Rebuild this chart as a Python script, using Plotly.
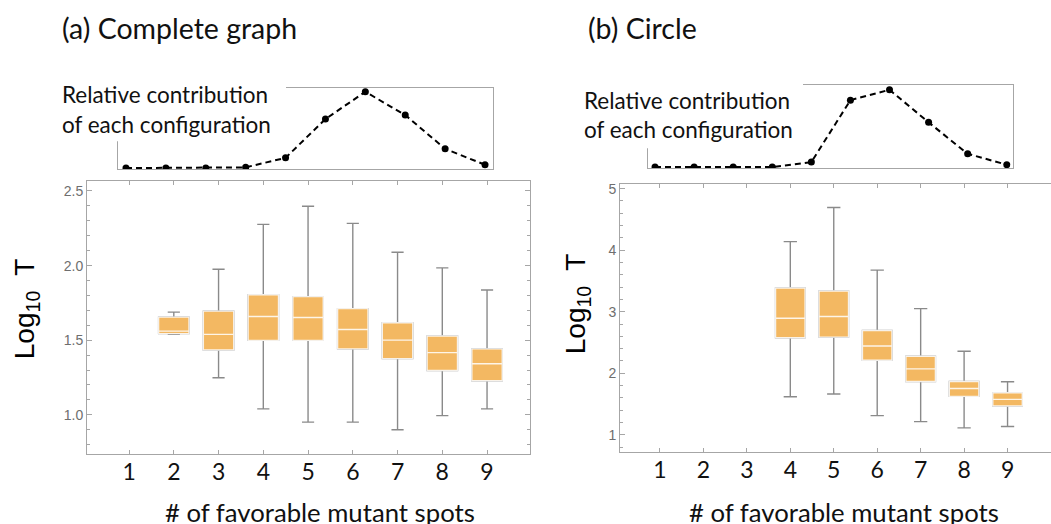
import plotly.graph_objects as go

W, H = 1051, 524

# (a) complete graph: box statistics of log10 T per number of favorable spots
spots_a = [2, 3, 4, 5, 6, 7, 8, 9]
lo_a = [1.539, 1.249, 1.040, 0.951, 0.951, 0.900, 0.995, 1.040]
q1_a = [1.544, 1.435, 1.499, 1.499, 1.442, 1.377, 1.297, 1.229]
med_a = [1.561, 1.539, 1.659, 1.652, 1.572, 1.501, 1.417, 1.342]
q3_a = [1.655, 1.695, 1.805, 1.792, 1.712, 1.617, 1.528, 1.442]
hi_a = [1.688, 1.976, 2.276, 2.398, 2.283, 2.089, 1.985, 1.837]

# (b) circle
spots_b = [4, 5, 6, 7, 8, 9]
lo_b = [1.619, 1.662, 1.312, 1.215, 1.113, 1.134]
q1_b = [2.577, 2.588, 2.211, 1.867, 1.624, 1.468]
med_b = [2.895, 2.922, 2.443, 2.071, 1.753, 1.576]
q3_b = [3.385, 3.336, 2.696, 2.276, 1.867, 1.683]
hi_b = [4.139, 4.693, 3.676, 3.051, 2.357, 1.861]

# relative contribution of each configuration (inset curves)
config_k = list(range(10))
contrib_a = [0.0, 0.0, 0.0, 0.009, 0.134, 0.643, 1.0, 0.695, 0.252, 0.043]
contrib_b = [0.0, 0.0, 0.0, 0.0, 0.064, 0.866, 1.0, 0.579, 0.171, 0.030]

x_ticks = [1, 2, 3, 4, 5, 6, 7, 8, 9]
y_ticks_a = [1.0, 1.5, 2.0, 2.5]
y_ticks_b = [1, 2, 3, 4, 5]

ORANGE = "#F3B862"
WHISK = "#8a8a8a"
FRAME = "#a6a6a6"
LABEL_FONT = "Lato"


def px_x(p):
    return p / W


def px_y(p):
    return 1 - p / H


fig = go.Figure()


def add_boxes(spots, lo, q1, med, q3, hi, xa, ya, cap):
    # whiskers (gray)
    fig.add_trace(go.Box(
        x=spots, q1=q1, median=med, q3=q3, lowerfence=lo, upperfence=hi,
        width=0.68, whiskerwidth=cap, fillcolor=ORANGE,
        line=dict(color=WHISK, width=1.4), boxpoints=False,
        xaxis=xa, yaxis=ya, showlegend=False, hoverinfo="skip"))
    # box body with white outline and white median
    fig.add_trace(go.Box(
        x=spots, q1=q1, median=med, q3=q3, lowerfence=q1, upperfence=q3,
        width=0.68, whiskerwidth=0, fillcolor=ORANGE,
        line=dict(color="rgba(255,255,255,0.85)", width=1.4), boxpoints=False,
        xaxis=xa, yaxis=ya, showlegend=False, hoverinfo="skip"))


add_boxes(spots_a, lo_a, q1_a, med_a, q3_a, hi_a, "x", "y", 0.4)
add_boxes(spots_b, lo_b, q1_b, med_b, q3_b, hi_b, "x2", "y2", 0.45)

for k, c, xa, ya in [(config_k, contrib_a, "x3", "y3"), (config_k, contrib_b, "x4", "y4")]:
    fig.add_trace(go.Scatter(
        x=k, y=c, mode="lines+markers", xaxis=xa, yaxis=ya,
        line=dict(color="black", width=2, dash="6px,4px"),
        marker=dict(color="black", size=7), showlegend=False, hoverinfo="skip"))

frame_common = dict(showline=True, linecolor=FRAME, linewidth=1, mirror="ticks",
                    ticks="inside", tickcolor=FRAME, showgrid=False, zeroline=False)

xtick_common = dict(tickvals=x_ticks, ticklen=4,
                    tickfont=dict(family=LABEL_FONT, size=23, color="#111"),
                    ticklabelstandoff=-3)

inset_common = dict(showline=True, linecolor=FRAME, mirror=True, showticklabels=False,
                    showgrid=False, zeroline=False, ticks="")

layout = dict(
    width=W, height=H, margin=dict(l=0, r=0, t=0, b=0),
    paper_bgcolor="white", plot_bgcolor="white", boxmode="overlay",
    xaxis=dict(domain=[px_x(87), px_x(530)], range=[0.06, 9.96], anchor="y",
               **frame_common, **xtick_common),
    yaxis=dict(domain=[px_y(454), px_y(179)], range=[0.735, 2.567], anchor="x",
               tickvals=y_ticks_a, tickformat=".1f", ticklen=5,
               tickfont=dict(family="Liberation Sans", size=14, color="#6e6e6e"),
               minor=dict(dtick=0.1, ticklen=3, tickcolor=FRAME, ticks="inside"),
               **frame_common),
    xaxis2=dict(domain=[px_x(620), 1.0], range=[0.08, 10.0], anchor="y2",
                **frame_common, **xtick_common),
    yaxis2=dict(domain=[px_y(452), px_y(182)], range=[0.714, 5.076], anchor="x2",
                tickvals=y_ticks_b, ticklen=5,
                tickfont=dict(family="Liberation Sans", size=14, color="#6e6e6e"),
                minor=dict(dtick=0.2, ticklen=3, tickcolor=FRAME, ticks="inside"),
                **{**frame_common, "mirror": False}),
    xaxis3=dict(domain=[px_x(118), px_x(493)], range=[-0.2, 9.2], anchor="y3", **inset_common),
    yaxis3=dict(domain=[px_y(167), px_y(85)], range=[-0.013, 1.056], anchor="x3", **inset_common),
    xaxis4=dict(domain=[px_x(648), px_x(1013)], range=[-0.18, 9.16], anchor="y4", **inset_common),
    yaxis4=dict(domain=[px_y(166), px_y(82.7)], range=[-0.013, 1.059], anchor="x4", **inset_common),
)
fig.update_layout(**layout)

# white panels behind the inset captions hide the upper-left part of the inset frames
for x0, x1, y1 in [(50, 286, 139), (572, 803, 146)]:
    fig.add_shape(type="rect", xref="paper", yref="paper", layer="above",
                  x0=px_x(x0), x1=px_x(x1), y0=px_y(y1), y1=px_y(70),
                  fillcolor="white", line=dict(width=0))


def note(text, x, y, size, xanchor="left", family=LABEL_FONT, angle=0, color="#111"):
    fig.add_annotation(text=text, xref="paper", yref="paper", x=px_x(x), y=px_y(y),
                       xanchor=xanchor, yanchor="middle", showarrow=False,
                       textangle=angle, font=dict(family=family, size=size, color=color))


note("(a) Complete graph", 60, 25, 28.5)
note("(b) Circle", 586, 25, 28.5)
note("Relative contribution", 60, 92, 22.5)
note("of each configuration", 60, 122, 22.5)
note("Relative contribution", 582, 98, 22.5)
note("of each configuration", 582, 127, 22.5)
note("# of favorable mutant spots", 320, 512, 25.7, xanchor="center")
note("# of favorable mutant spots", 844, 512, 25.7, xanchor="center")

y_label = "Log<sub>10</sub>&nbsp; T"
note(y_label, 26, 308, 28, xanchor="center", family="Liberation Sans", angle=-90, color="black")
note(y_label, 577, 303, 28, xanchor="center", family="Liberation Sans", angle=-90, color="black")

fig.write_html("out.html")
